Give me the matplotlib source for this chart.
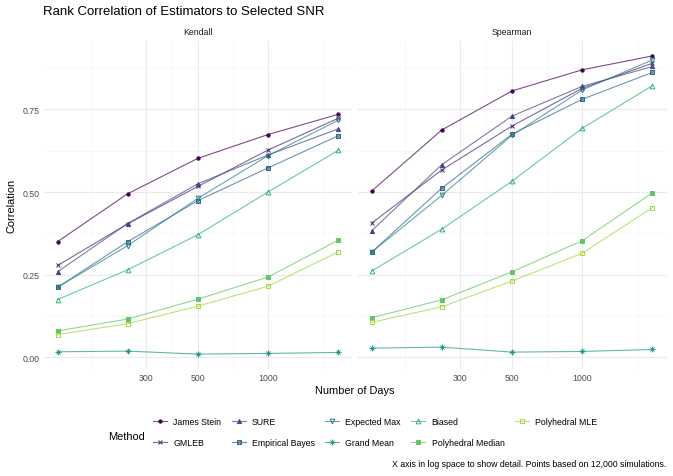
import numpy as np
import matplotlib
matplotlib.use("Agg")
import matplotlib.pyplot as plt
from matplotlib.lines import Line2D
from matplotlib.legend_handler import HandlerTuple

plt.rcParams['font.family'] = ['Liberation Sans', 'DejaVu Sans']

days = [125, 250, 500, 1000, 2000]
methods = ["James Stein", "GMLEB", "SURE", "Empirical Bayes", "Expected Max",
           "Grand Mean", "Biased", "Polyhedral Median", "Polyhedral MLE"]

kendall = {
    "James Stein":       [0.350, 0.495, 0.602, 0.674, 0.735],
    "GMLEB":             [0.278, 0.404, 0.517, 0.627, 0.723],
    "SURE":              [0.259, 0.405, 0.525, 0.612, 0.691],
    "Empirical Bayes":   [0.212, 0.350, 0.474, 0.573, 0.670],
    "Expected Max":      [0.212, 0.338, 0.481, 0.610, 0.717],
    "Grand Mean":        [0.017, 0.019, 0.010, 0.012, 0.015],
    "Biased":            [0.175, 0.265, 0.371, 0.500, 0.626],
    "Polyhedral Median": [0.080, 0.116, 0.176, 0.243, 0.354],
    "Polyhedral MLE":    [0.069, 0.102, 0.155, 0.215, 0.319],
}
spearman = {
    "James Stein":       [0.503, 0.688, 0.806, 0.870, 0.912],
    "GMLEB":             [0.406, 0.567, 0.700, 0.814, 0.890],
    "SURE":              [0.383, 0.583, 0.730, 0.820, 0.880],
    "Empirical Bayes":   [0.318, 0.512, 0.675, 0.781, 0.862],
    "Expected Max":      [0.318, 0.490, 0.672, 0.809, 0.900],
    "Grand Mean":        [0.028, 0.031, 0.016, 0.018, 0.024],
    "Biased":            [0.261, 0.388, 0.533, 0.693, 0.822],
    "Polyhedral Median": [0.120, 0.174, 0.259, 0.353, 0.498],
    "Polyhedral MLE":    [0.106, 0.153, 0.231, 0.315, 0.453],
}

cols = plt.cm.viridis(np.linspace(0, 0.86, len(methods)))
# marker styles (ggplot shapes 16, 4, 17, 7, 6, 8, 2, 15, 0)
shapes = {
    "James Stein":       dict(marker='o', filled=True, ms=2.4),
    "GMLEB":             dict(marker='x', filled=True, ms=3.2),
    "SURE":              dict(marker='^', filled=True, ms=3.0),
    "Empirical Bayes":   dict(marker='s', filled=False, ms=3.2, inner='x'),
    "Expected Max":      dict(marker='v', filled=False, ms=3.4),
    "Grand Mean":        dict(marker='+', filled=True, ms=3.8, inner='x'),
    "Biased":            dict(marker='^', filled=False, ms=3.4),
    "Polyhedral Median": dict(marker='s', filled=True, ms=2.9),
    "Polyhedral MLE":    dict(marker='s', filled=False, ms=3.2),
}

W, H = 673, 477
fig = plt.figure(figsize=(W / 100, H / 100), dpi=100)

def fx(px):
    return px / W

def fy(py):
    return 1 - py / H

top, bot = 42, 370
ax1 = fig.add_axes([fx(43.5), fy(bot), (352 - 43.5) / W, (bot - top) / H])
ax2 = fig.add_axes([fx(357.5), fy(bot), (666.5 - 357.5) / W, (bot - top) / H])

allv = np.array([v for d in (kendall, spearman) for vals in d.values() for v in vals])
ymin, ymax = allv.min(), allv.max()
yexp = 0.05 * (ymax - ymin)
lx = np.log10(days)
xexp = 0.05 * (lx.max() - lx.min())

for ax, data, strip in [(ax1, kendall, "Kendall"), (ax2, spearman, "Spearman")]:
    ax.set_xscale('log')
    ax.set_xlim(10 ** (lx.min() - xexp), 10 ** (lx.max() + xexp))
    ax.set_ylim(ymin - yexp, ymax + yexp)
    ax.set_xticks([300, 500, 1000])
    ax.set_xticklabels(["300", "500", "1000"])
    ax.set_xticks([173.2, 387.3, 707.1, 1732], minor=True)
    ax.xaxis.set_minor_formatter(matplotlib.ticker.NullFormatter())
    ax.set_yticks([0, 0.25, 0.5, 0.75])
    ax.set_yticks([0.125, 0.375, 0.625, 0.875], minor=True)
    ax.yaxis.set_minor_formatter(matplotlib.ticker.NullFormatter())
    ax.grid(True, which='major', color='#EBEBEB', lw=0.8)
    ax.grid(True, which='minor', color='#F2F2F2', lw=0.4)
    ax.set_axisbelow(True)
    for s in ax.spines.values():
        s.set_visible(False)
    ax.tick_params(which='both', length=0, labelsize=6.3, labelcolor='#4D4D4D', pad=3)
    ax.set_title(strip, fontsize=6.3, color='#1A1A1A', pad=5)
    for i, m in enumerate(methods):
        st = shapes[m]
        c = cols[i]
        ax.plot(days, data[m], color=c, lw=0.8, alpha=0.7, zorder=2)
        ax.plot(days, data[m], ls='none', marker=st['marker'], ms=st['ms'],
                mec=c, mfc=c if st['filled'] else 'none', mew=0.7, zorder=3)
        if st.get('inner'):
            ax.plot(days, data[m], ls='none', marker=st['inner'], ms=st['ms'] * 0.8,
                    mec=c, mew=0.6, zorder=3)

ax1.set_yticklabels(["0.00", "0.25", "0.50", "0.75"])
ax2.set_yticklabels([])

handles = []
for i, m in enumerate(methods):
    st = shapes[m]
    c = cols[i]
    ln = Line2D([], [], color=c, lw=0.8, alpha=0.7)
    mk = Line2D([], [], ls='none', marker=st['marker'], ms=st['ms'], mec=c,
                mfc=c if st['filled'] else 'none', mew=0.7)
    parts = [ln, mk]
    if st.get('inner'):
        parts.append(Line2D([], [], ls='none', marker=st['inner'], ms=st['ms'] * 0.8,
                            mec=c, mew=0.6))
    handles.append(tuple(parts))

fig.legend(handles, methods, handler_map={tuple: HandlerTuple(ndivide=1)},
           loc='center left', bbox_to_anchor=(fx(153), fy(433)), ncol=5,
           frameon=False, fontsize=6.3, handlelength=1.6, handletextpad=0.7,
           columnspacing=1.2, labelspacing=1.4, borderpad=0, borderaxespad=0)

fig.text(fx(108), fy(437), "Method", fontsize=7.9, color='black', va='center', ha='left')
fig.text(fx(43), fy(12), "Rank Correlation of Estimators to Selected SNR",
         fontsize=9.5, va='center', ha='left')
fig.text(fx(355), fy(391), "Number of Days", fontsize=7.9, va='center', ha='center')
fig.text(fx(12), fy(206), "Correlation", fontsize=7.9, va='center', ha='center',
         rotation=90)
fig.text(fx(666), fy(465), "X axis in log space to show detail. Points based on 12,000 simulations.",
         fontsize=6.3, va='center', ha='right')

fig.savefig("out.png", dpi=100, facecolor='white')
